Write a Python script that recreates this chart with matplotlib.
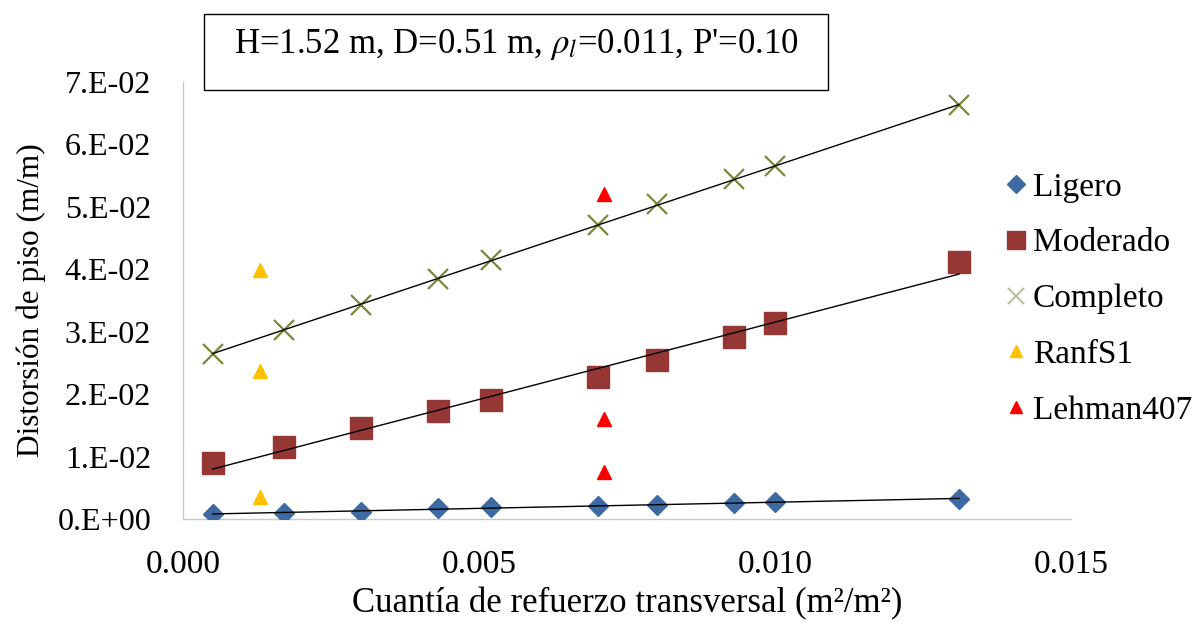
import numpy as np
import matplotlib
matplotlib.use('Agg')
import matplotlib.pyplot as plt
from matplotlib.patches import Rectangle

plt.rcParams['font.family'] = ['Liberation Serif', 'DejaVu Serif']
plt.rcParams['mathtext.fontset'] = 'stix'

# Data
cuantia = [0.0005, 0.0017, 0.0030, 0.0043, 0.0052, 0.0070, 0.0080, 0.0093, 0.0100, 0.0131]
ligero = [0.0008, 0.0009, 0.0012, 0.0017, 0.0020, 0.0021, 0.0022, 0.0025, 0.0028, 0.0032]
moderado = [0.0089, 0.0116, 0.0145, 0.0173, 0.0191, 0.0228, 0.0255, 0.0292, 0.0314, 0.0412]
completo = [0.0265, 0.0303, 0.0343, 0.0384, 0.0415, 0.0471, 0.0504, 0.0544, 0.0565, 0.0663]

ranf_x = [0.0013, 0.0013, 0.0013]
ranf_y = [0.0036, 0.0237, 0.0399]
lehman_x = [0.0071, 0.0071, 0.0071]
lehman_y = [0.0075, 0.0160, 0.0521]

yticks = [0.00, 0.01, 0.02, 0.03, 0.04, 0.05, 0.06, 0.07]
ytick_labels = ['0.E+00', '1.E-02', '2.E-02', '3.E-02', '4.E-02', '5.E-02', '6.E-02', '7.E-02']
xticks = [0.000, 0.005, 0.010, 0.015]
xtick_labels = ['0.000', '0.005', '0.010', '0.015']

fig = plt.figure(figsize=(11.98, 6.25), dpi=100)
ax = fig.add_axes([0.1528, 0.1696, 0.7416, 0.6992])

ax.plot(cuantia, ligero, 'D', color='#3d6aa3', ms=10.5, mec='#3d6aa3', label='Ligero', zorder=3)
ax.plot(cuantia, moderado, 's', color='#953735', ms=16, label='Moderado', zorder=3)
ax.plot(cuantia, completo, 'x', color='#76893a', ms=14, mew=1.6, label='Completo', zorder=3)
ax.plot(ranf_x, ranf_y, '^', color='#ffc000', ms=10, label='RanfS1', zorder=3)
ax.plot(lehman_x, lehman_y, '^', color='#ff0000', ms=10, label='Lehman407', zorder=3)

# linear trend lines
x = np.array(cuantia)
xl = np.array([x[0], x[-1]])
for ys in (ligero, moderado, completo):
    m, b = np.polyfit(x, ys, 1)
    ax.plot(xl, m * xl + b, color='black', lw=1.0, zorder=4)

ax.set_xlim(0, 0.015)
ax.set_ylim(0, 0.07)
ax.set_xticks(xticks)
ax.set_xticklabels(xtick_labels)
ax.set_yticks(yticks)
ax.set_yticklabels(ytick_labels)
ax.tick_params(length=0, labelsize=24)
ax.tick_params(axis='y', labelsize=23, pad=23)
ax.tick_params(axis='x', pad=22)

for s in ('top', 'right'):
    ax.spines[s].set_visible(False)
for s in ('left', 'bottom'):
    ax.spines[s].set_color('#c8c8c8')
    ax.spines[s].set_linewidth(1.0)

ax.set_xlabel('Cuantía de refuerzo transversal (m²/m²)', fontsize=25, labelpad=5)
ax.set_ylabel('Distorsión de piso (m/m)', fontsize=22.5, labelpad=8)

leg = ax.legend(loc='center left', bbox_to_anchor=(0.8414, 0.5216), bbox_transform=fig.transFigure,
                frameon=False, fontsize=24, handlelength=0.5, handletextpad=0.25,
                labelspacing=0.76, borderpad=0, borderaxespad=0, markerscale=0.85)
leg.legend_handles[2].set_color('#b8c0a8')

# parameter box above the plot
fig.add_artist(Rectangle((204 / 1198, 1 - 90 / 625), 624 / 1198, 76 / 625,
                         transform=fig.transFigure, fill=False, edgecolor='black', lw=1.0))
fig.text(516 / 1198, 1 - 45 / 625, r"H=1.52 m, D=0.51 m, $\rho_l$=0.011, P'=0.10",
         ha='center', va='center', fontsize=25)

fig.savefig('out.png', dpi=100)
